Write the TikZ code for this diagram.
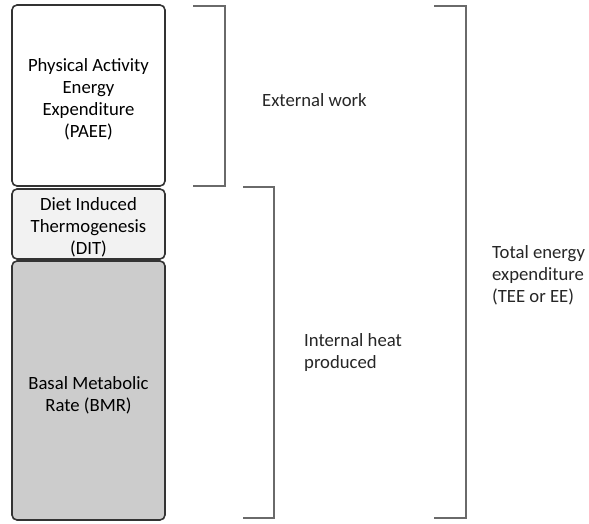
\documentclass[tikz,border=0pt]{standalone}
\usepackage{fontspec}
\setmainfont{Carlito}
\definecolor{boxline}{HTML}{333333}
\definecolor{bracketgray}{HTML}{6A6A6A}
\definecolor{ditfill}{HTML}{F2F2F2}
\definecolor{bmrfill}{HTML}{CCCCCC}
\tikzset{
  partbox/.style={draw=boxline, line width=1.6pt, rounded corners=5pt,
    minimum width=153pt, inner sep=0pt},
  boxtext/.style={align=center, inner sep=0pt,
    font=\fontsize{18.7}{22}\selectfont},
  bracket/.style={draw=bracketgray, line width=1.3pt},
  sidetext/.style={anchor=west, align=left, inner sep=0pt,
    font=\fontsize{18.7}{22}\selectfont, text=black!85}
}
\begin{document}
\begin{tikzpicture}[x=1pt,y=-1pt]
    \useasboundingbox (0,0) rectangle (589,524);
    % stacked parts of the energy budget
    \node[partbox, fill=white, minimum height=181pt] (paee) at (88.5,95.5) {};
    \node[partbox, fill=ditfill, minimum height=70pt] (dit) at (88.5,224) {};
    \node[partbox, fill=bmrfill, minimum height=259pt] (bmr) at (88.5,390.5) {};
    \node[boxtext] (paeetext) at ([yshift=-4pt]paee.center)
      {Physical Activity\\Energy\\Expenditure\\(PAEE)};
    \node[boxtext] (dittext) at ([yshift=-3pt]dit.center)
      {Diet Induced\\Thermogenesis\\(DIT)};
    \node[boxtext] (bmrtext) at ([yshift=-5pt]bmr.center)
      {Basal Metabolic\\Rate (BMR)};
    % brackets
    \draw[bracket] (193,6) -- (225,6) -- (225,186) -- (193,186);
    \draw[bracket] (243,187) -- (274,187) -- (274,518) -- (243,518);
    \draw[bracket] (434,6) -- (466,6) -- (466,518) -- (434,518);
    % bracket texts
    \node[sidetext] (extwork) at (262,100) {External work};
    \node[sidetext] (intheat) at (304,353) {Internal heat\\produced};
    \node[sidetext] (total) at (492,275) {Total energy\\expenditure\\(TEE or EE)};
\end{tikzpicture}
\end{document}
